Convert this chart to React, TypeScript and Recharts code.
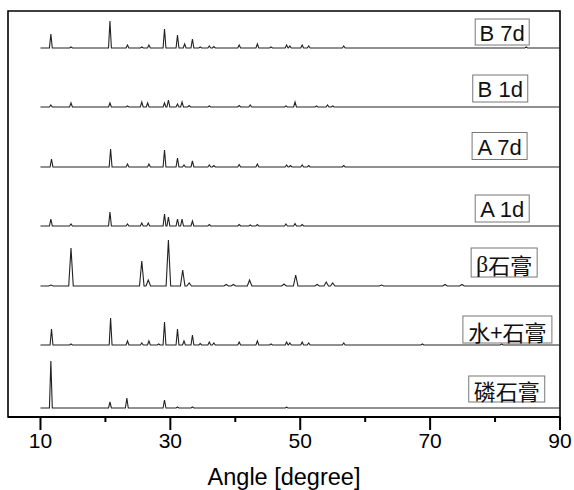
import { Line, LineChart, ReferenceArea, ReferenceDot, XAxis, YAxis } from "recharts";

type Peak = [number, number];

const angleTicks = [10, 20, 30, 40, 50, 60, 70, 80, 90];
const labelledTicks = [10, 30, 50, 70, 90];

const sampleNames = ["B 7d", "B 1d", "A 7d", "A 1d", "β石膏", "水+石膏", "磷石膏"];
// vertical stacking offset of each trace (intensity units)
const traceOffsets = [369, 310, 250, 191, 131, 72, 9];

// [2θ, peak height above baseline]
const peaksB7d: Peak[] = [
  [11.6, 14], [14.7, 1], [20.7, 27], [23.4, 3], [25.6, 1], [26.7, 3], [29.1, 19],
  [31.1, 13], [32.2, 4], [33.4, 9], [34.6, 1], [36.0, 2], [36.7, 1.5], [40.6, 3],
  [43.4, 4], [45.5, 1], [47.9, 3], [48.4, 2], [50.3, 3], [51.3, 2], [56.7, 2], [84.8, 1],
];
const peaksB1d: Peak[] = [
  [11.6, 2], [14.7, 4], [20.7, 4], [23.4, 1], [25.6, 5], [26.5, 4], [29.1, 4],
  [29.7, 7], [31.1, 3], [31.8, 5], [32.9, 1.5], [36.0, 1], [40.6, 1.5], [42.3, 2],
  [47.8, 1], [49.2, 5], [52.5, 1], [54.2, 2], [55.0, 1],
];
const peaksA7d: Peak[] = [
  [11.7, 8], [20.8, 18], [23.4, 3], [26.7, 3], [29.1, 17], [31.1, 9], [32.1, 2],
  [33.4, 6], [36.0, 2], [36.7, 1.5], [40.6, 2.5], [43.4, 3], [47.9, 2], [48.5, 1.5],
  [50.3, 2], [51.3, 1.5], [56.7, 1.5],
];
const peaksA1d: Peak[] = [
  [11.6, 7], [14.7, 2], [20.7, 14], [23.4, 2], [25.6, 3], [26.6, 3], [29.1, 12],
  [29.7, 9], [31.1, 7], [31.8, 7], [33.4, 5], [36.0, 1.5], [40.6, 1.5], [42.3, 1],
  [43.4, 1.5], [47.8, 2], [49.2, 2.5], [50.3, 1.5],
];
const peaksBeta: Peak[] = [
  [11.6, 1], [14.7, 38], [25.6, 25], [26.6, 6], [29.7, 46], [31.9, 16], [32.9, 3],
  [38.6, 1.5], [39.7, 1.5], [42.2, 6], [47.5, 2], [49.3, 11], [52.6, 1.5], [54.0, 4],
  [55.0, 3], [62.5, 1], [72.3, 1.5], [74.9, 1.5],
];
const peaksWaterGypsum: Peak[] = [
  [11.7, 16], [14.7, 1], [20.8, 27], [23.4, 4], [25.6, 2], [26.7, 4], [28.2, 1],
  [29.1, 23], [31.1, 16], [32.1, 4], [33.4, 10], [34.6, 1.5], [36.0, 3], [36.7, 2],
  [40.6, 3], [43.4, 4], [45.5, 1], [47.9, 3], [48.4, 2], [50.3, 3], [51.3, 2],
  [56.7, 2], [68.8, 1], [81.0, 1],
];
const peaksPhosphogypsum: Peak[] = [
  [11.6, 47], [20.7, 6], [23.3, 10], [29.1, 8], [31.1, 1], [33.4, 1], [47.9, 0.8],
];

const allPeaks = [
  peaksB7d, peaksB1d, peaksA7d, peaksA1d, peaksBeta, peaksWaterGypsum, peaksPhosphogypsum,
];

// label box centre: [2θ, intensity]
const labelAngles = [81.1, 80.8, 80.7, 81.1, 81.4, 81.9, 81.8];
const labelLevels = [385, 328.5, 271, 208.5, 154.5, 87.5, 28];

const boxSizes = [
  [54, 26], [55, 27], [55, 27], [54, 27], [66, 29], [89, 27], [76, 26],
];

function buildTrace(peaks: Peak[], base: number, halfWidth: number) {
  const pts = [{ x: 10, y: base }];
  peaks.forEach(([a, h]) => {
    pts.push({ x: a - halfWidth, y: base });
    pts.push({ x: a, y: base + h });
    pts.push({ x: a + halfWidth, y: base });
  });
  pts.push({ x: 90, y: base });
  return pts;
}

const traces = allPeaks.map((p, i) => buildTrace(p, traceOffsets[i], i === 4 ? 0.35 : 0.22));

function AngleTick(props: any) {
  const { x, y, payload } = props;
  const major = labelledTicks.includes(payload.value);
  return (
    <g>
      <line x1={x} x2={x} y1={y} y2={y + (major ? 13 : 5)} stroke="#000" strokeWidth={2} />
      {major && (
        <text
          x={x}
          y={y + 31}
          textAnchor="middle"
          fontSize={21}
          fontFamily="'Liberation Sans', Arial, sans-serif"
          fill="#000"
        >
          {payload.value}
        </text>
      )}
    </g>
  );
}

function makeLabel(i: number) {
  const [w, h] = boxSizes[i];
  const name = sampleNames[i];
  const latin = /^[AB]/.test(name);
  return (props: any) => {
    const { cx, cy } = props;
    return (
      <g>
        <rect
          x={cx - w / 2}
          y={cy - h / 2}
          width={w}
          height={h}
          fill="#fff"
          stroke="#777"
          strokeWidth={1}
        />
        <text
          x={cx}
          y={cy + 1}
          textAnchor="middle"
          dominantBaseline="central"
          fontSize={22}
          fontFamily={
            latin
              ? "'Liberation Sans', Arial, sans-serif"
              : "'Noto Sans CJK SC', sans-serif"
          }
          fill="#111"
        >
          {name.startsWith("β") ? (
            <>
              <tspan fontFamily="'Liberation Serif', serif" fontSize={24}>
                β
              </tspan>
              {name.slice(1)}
            </>
          ) : (
            name
          )}
        </text>
      </g>
    );
  };
}

export default function App() {
  return (
    <div style={{ position: "absolute", left: 0, top: 0, background: "#fff" }}>
      <LineChart width={574} height={490} margin={{ top: 11, right: 14, bottom: 0, left: 8 }}>
        <XAxis
          type="number"
          dataKey="x"
          domain={[5, 90]}
          ticks={angleTicks}
          interval={0}
          allowDataOverflow
          tickSize={0}
          tickMargin={0}
          tick={<AngleTick />}
          height={73}
          axisLine={{ stroke: "#000", strokeWidth: 2 }}
          label={{
            value: "Angle [degree]",
            position: "insideBottom",
            offset: 5,
            fontSize: 23.5,
            fill: "#000",
            fontFamily: "'Liberation Sans', Arial, sans-serif",
          }}
        />
        <YAxis type="number" domain={[0, 406]} allowDataOverflow hide />
        <ReferenceArea
          x1={5}
          x2={90}
          y1={0}
          y2={406}
          fill="none"
          stroke="#000"
          strokeWidth={1.6}
          ifOverflow="visible"
        />
        {traces.map((t, i) => (
          <Line
            key={sampleNames[i]}
            data={t}
            dataKey="y"
            type="linear"
            stroke="#222"
            strokeWidth={1.1}
            dot={false}
            isAnimationActive={false}
          />
        ))}
        {sampleNames.map((n, i) => (
          <ReferenceDot
            key={`lbl-${n}`}
            x={labelAngles[i]}
            y={labelLevels[i]}
            r={0}
            shape={makeLabel(i)}
            ifOverflow="visible"
          />
        ))}
      </LineChart>
    </div>
  );
}
